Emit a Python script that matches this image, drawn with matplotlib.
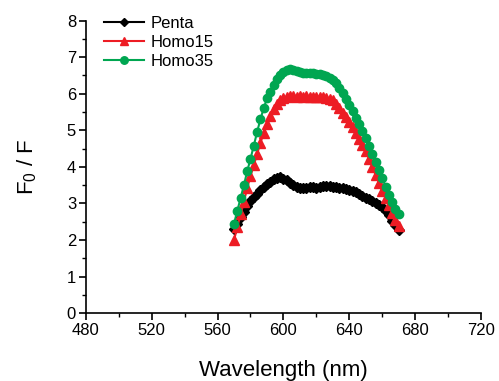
import matplotlib
matplotlib.use("Agg")
import matplotlib.pyplot as plt
from matplotlib.ticker import MultipleLocator

plt.rcParams["font.family"] = ["Liberation Sans", "DejaVu Sans"]

# wavelength (nm), read every 2 nm off the reference
wavelength = list(range(570, 671, 2))

penta = [2.30, 2.45, 2.62, 2.78, 2.93, 3.07, 3.17, 3.27, 3.37, 3.46,
         3.53, 3.60, 3.66, 3.70, 3.71, 3.68, 3.63, 3.57, 3.50, 3.46,
         3.43, 3.42, 3.43, 3.45, 3.44, 3.43, 3.46, 3.48, 3.49, 3.47,
         3.45, 3.44, 3.42, 3.41, 3.40, 3.38, 3.34, 3.30, 3.25, 3.21,
         3.16, 3.11, 3.06, 3.00, 2.95, 2.89, 2.80, 2.68, 2.52, 2.40,
         2.28]

homo15 = [2.00, 2.35, 2.70, 3.05, 3.42, 3.75, 4.05, 4.35, 4.65, 4.93,
          5.18, 5.38, 5.57, 5.72, 5.83, 5.89, 5.92, 5.93, 5.93, 5.92,
          5.93, 5.92, 5.93, 5.92, 5.91, 5.92, 5.92, 5.90, 5.88, 5.86,
          5.82, 5.72, 5.60, 5.48, 5.36, 5.24, 5.08, 4.92, 4.76, 4.60,
          4.43, 4.22, 4.00, 3.78, 3.56, 3.34, 3.15, 2.95, 2.75, 2.55,
          2.38]

homo35 = [2.45, 2.80, 3.15, 3.50, 3.88, 4.22, 4.58, 4.95, 5.30, 5.60,
          5.87, 6.05, 6.25, 6.40, 6.52, 6.60, 6.66, 6.68, 6.66, 6.62,
          6.59, 6.58, 6.58, 6.56, 6.57, 6.55, 6.55, 6.52, 6.49, 6.44,
          6.37, 6.28, 6.16, 6.02, 5.86, 5.69, 5.52, 5.34, 5.16, 4.98,
          4.79, 4.57, 4.35, 4.13, 3.92, 3.70, 3.46, 3.24, 3.04, 2.86,
          2.71]

x_ticks = [480, 520, 560, 600, 640, 680, 720]

fig = plt.figure(figsize=(4.99, 3.81), dpi=100)
ax = fig.add_axes([0.172, 0.178, 0.792, 0.768])

ax.plot(wavelength, penta, color="black", marker="D", markersize=5, lw=1.5, label="Penta")
ax.plot(wavelength, homo15, color="#ED1C24", marker="^", markersize=6.5, lw=1.5, label="Homo15")
ax.plot(wavelength, homo35, color="#00A651", marker="o", markersize=6, lw=1.5, label="Homo35")

ax.set_xlim(480, 720)
ax.set_ylim(0, 8)
ax.set_xticks(x_ticks)
ax.xaxis.set_minor_locator(MultipleLocator(20))
ax.yaxis.set_major_locator(MultipleLocator(1))
ax.yaxis.set_minor_locator(MultipleLocator(0.5))

for side in ["top", "right"]:
    ax.spines[side].set_visible(False)
for side in ["left", "bottom"]:
    ax.spines[side].set_linewidth(1.2)

ax.tick_params(which="major", direction="out", length=5, width=1.2, labelsize=12, pad=2)
ax.tick_params(which="minor", direction="out", length=3, width=1.0)

ax.set_xlabel("Wavelength (nm)", fontsize=16, labelpad=16)
ax.set_ylabel("F$_\\mathregular{0}$ / F", fontsize=16, labelpad=20)

ax.legend(loc="upper left", bbox_to_anchor=(0.03, 1.04), frameon=False, fontsize=12,
          handlelength=2.4, handletextpad=0.4, labelspacing=0.25, borderaxespad=0,
          markerscale=0.9)

fig.savefig("out.png", dpi=100)
